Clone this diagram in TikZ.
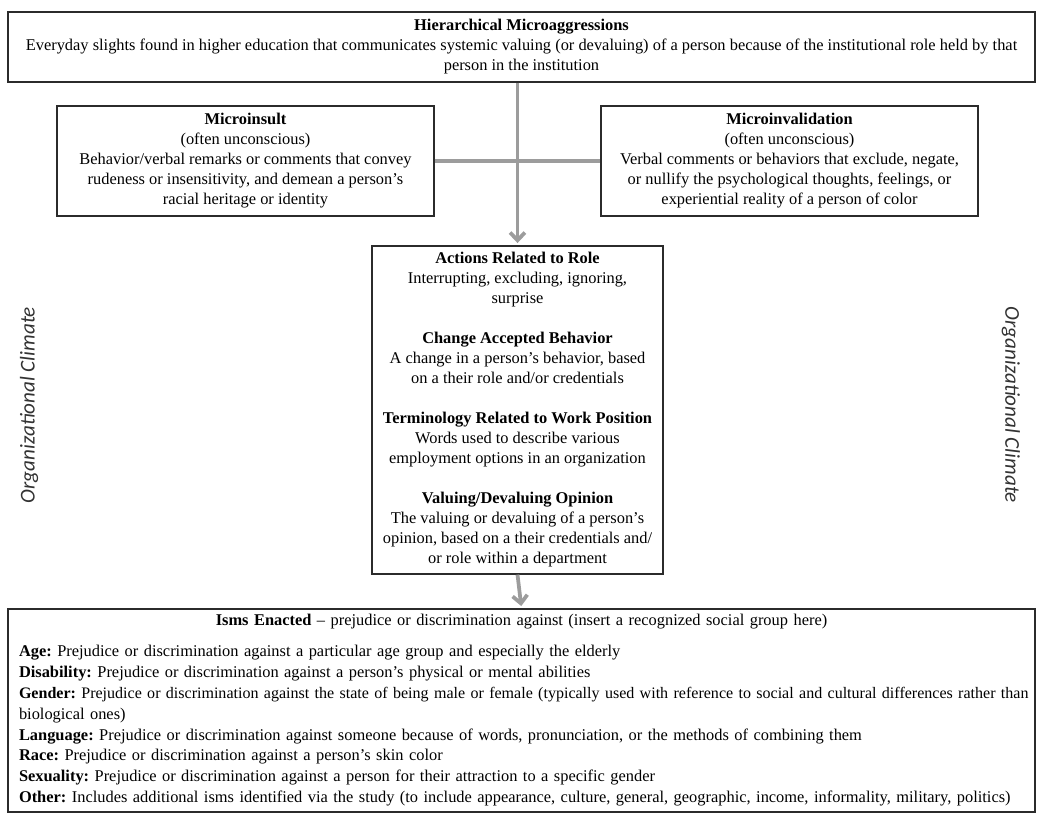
\documentclass[tikz,border=0pt]{standalone}
\usepackage{fontspec}
\usepackage{graphicx}
\setmainfont{Liberation Serif}
\newfontfamily\climatefont{Carlito}
\usetikzlibrary{arrows.meta,positioning}
\definecolor{FrameInk}{HTML}{2B2B2B}
\definecolor{LinkGray}{HTML}{9C9C9C}
\definecolor{ClimateInk}{HTML}{333333}
\newcommand{\px}{0.64pt}
\frenchspacing

\begin{document}
\begin{tikzpicture}[
    x=0.64pt, y=-0.64pt,
    font=\fontsize{10.5}{12.8}\selectfont,
    frame/.style={draw=FrameInk,line width=0.8pt,inner sep=0pt,align=center},
    link/.style={draw=LinkGray,line width=2.4pt},
    linkarrow/.style={link,shorten >=1.5pt,-{Straight Barb[length=5pt,width=9.5pt]}},
    climate/.style={font=\climatefont\itshape\fontsize{13.5}{15}\selectfont,text=ClimateInk}
  ]
  \useasboundingbox (0,0) rectangle (1039,813);

  % top definition
  \node[frame,minimum width=1027*\px,minimum height=70*\px] (hier) at (521.5,47)
    {\textbf{Hierarchical Microaggressions}\\
     Everyday slights found in higher education that communicates systemic valuing (or devaluing) of a person because of the institutional role held by that\\
     person in the institution};

  % the two kinds of slight
  \node[frame,minimum width=377*\px,minimum height=110*\px] (insult) at (245.5,161)
    {\textbf{Microinsult}\\
     (often unconscious)\\
     Behavior/verbal remarks or comments that convey\\
     rudeness or insensitivity, and demean a person's\\
     racial heritage or identity};
  \node[frame,minimum width=377*\px,minimum height=110*\px] (invalid) at (789.5,161)
    {\textbf{Microinvalidation}\\
     (often unconscious)\\
     Verbal comments or behaviors that exclude, negate,\\
     or nullify the psychological thoughts, feelings, or\\
     experiential reality of a person of color};

  % themes
  \node[frame,minimum width=291*\px,minimum height=328*\px] (roles) at (517.5,410)
    {\textbf{Actions Related to Role}\\
     Interrupting, excluding, ignoring,\\
     surprise\\[12.8pt]
     \textbf{Change Accepted Behavior}\\
     A change in a person's behavior, based\\
     on a their role and/or credentials\\[12.8pt]
     \textbf{Terminology Related to Work Position}\\
     Words used to describe various\\
     employment options in an organization\\[12.8pt]
     \textbf{Valuing/Devaluing Opinion}\\
     The valuing or devaluing of a person's\\
     opinion, based on a their credentials and/\\
     or role within a department};

  % isms
  \node[frame,align=left,text width=1005*\px,inner xsep=11*\px,minimum height=203*\px,
        font=\fontsize{10.5}{13.4}\selectfont] (isms) at (521.5,710.5)
    {\makebox[\linewidth][c]{\textbf{Isms Enacted} -- prejudice or discrimination against (insert a recognized social group here)}\\[6pt]
     \textbf{Age:} Prejudice or discrimination against a particular age group and especially the elderly\\
     \textbf{Disability:} Prejudice or discrimination against a person's physical or mental abilities\\
     \resizebox{646pt}{!}{\textbf{Gender:} Prejudice or discrimination against the state of being male or female (typically used with reference to social and cultural differences rather than}\\
     biological ones)\\
     \textbf{Language:} Prejudice or discrimination against someone because of words, pronunciation, or the methods of combining them\\
     \textbf{Race:} Prejudice or discrimination against a person's skin color\\
     \textbf{Sexuality:} Prejudice or discrimination against a person for their attraction to a specific gender\\
     \makebox[\linewidth][l]{\textbf{Other:} Includes additional isms identified via the study (to include appearance, culture, general, geographic, income, informality, military, politics)}};

  \node[climate,rotate=90] (climateleft) at (29,405) {Organizational Climate};
  \node[climate,rotate=-90] (climateright) at (1011,405) {Organizational Climate};

  \draw[link] (insult.east) -- (invalid.west);
  \draw[linkarrow] (roles.north |- hier.south) -- (roles.north);
  \draw[linkarrow] (roles.south) -- (isms.north);
\end{tikzpicture}
\end{document}
